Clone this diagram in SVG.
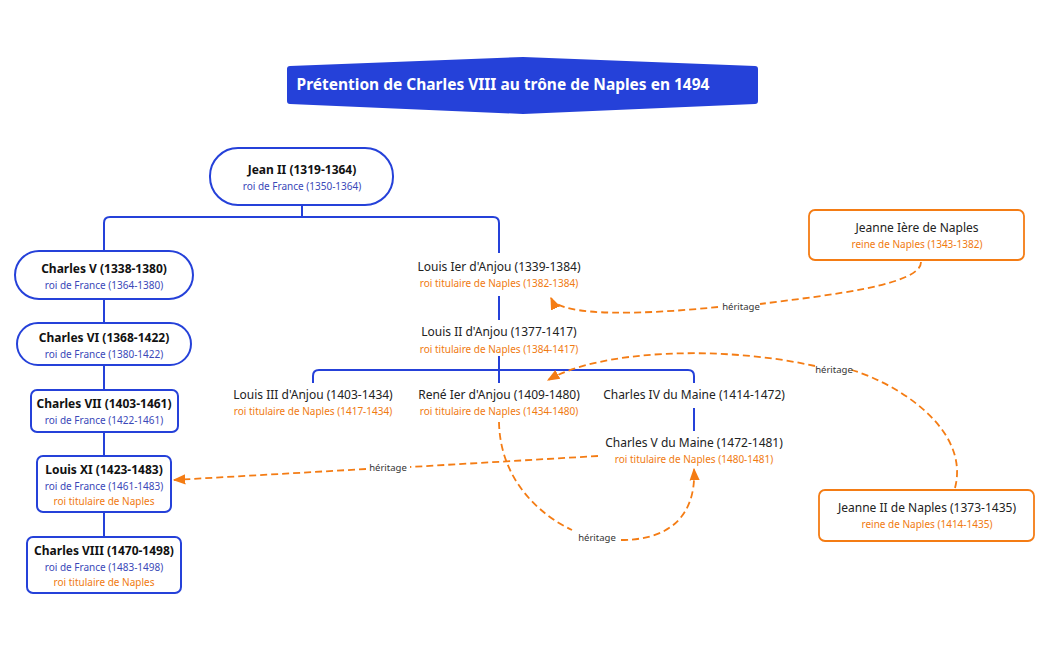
<svg xmlns="http://www.w3.org/2000/svg" width="1050" height="650" viewBox="0 0 1050 650">
<defs>
<style>
text{font-family:"Noto Sans","Open Sans",sans-serif;text-anchor:middle}
.b{font-size:12px;font-weight:bold;fill:#111}
.n{font-size:12px;fill:#222}
.s{font-size:10px;fill:#3a48b8}
.o{font-size:10px;fill:#f07a10}
.bn{fill:#fff;stroke:#2541d9;stroke-width:2}
.on{fill:#fff;stroke:#f47c14;stroke-width:1.8}
.l{fill:none;stroke:#2541d9;stroke-width:2}
.d{fill:none;stroke:#f47c14;stroke-width:1.8;stroke-dasharray:7,4}
.h{font-size:9.5px;fill:#333}
</style>
<marker id="a" viewBox="0 0 10 10" refX="9" refY="5" markerWidth="7" markerHeight="7" orient="auto"><path d="M0,1 L10,5 L0,9 z" fill="#f47c14"/></marker>
</defs>
<rect width="1050" height="650" fill="#fff"/>
<g id="title"><path d="M290,66 L523,57 L755,66 Q758,66 758,69 L758,101 Q758,104 755,104 L523,114 L290,104 Q287,104 287,101 L287,69 Q287,66 290,66 z" fill="#2541d9"/>
<text x="503" y="90" style="font-size:15.5px;font-weight:bold;fill:#fff">Prétention de Charles VIII au trône de Naples en 1494</text></g>
<g id="connectors">
<path class="l" d="M302,205 V217 M104,251 V223 Q104,217 110,217 H493 Q499,217 499,223 V253"/>
<path class="l" d="M104,299 V323 M104,365 V390 M104,432 V456 M104,512 V537"/>
<path class="l" d="M499,296 V320 M499,356 V383 M313,383 V376 Q313,370 319,370 H688 Q694,370 694,376 V383 M694,408 V431"/>
<path class="d" d="M921,262 C921,285 830,295 760,304 M718,307 C650,314 560,318 551,298" marker-end="url(#a)"/>
<path class="d" d="M955,488 C970,430 900,385 852,370 M815,366 C720,345 600,350 548,380" marker-end="url(#a)"/>
<path class="d" d="M598,456 L410,467 M366,469 L174,480" marker-end="url(#a)"/>
<path class="d" d="M499,422 C500,480 540,515 572,530 M621,540 C680,540 696,505 694,469" marker-end="url(#a)"/>
<text class="h" x="741" y="310">héritage</text>
<text class="h" x="834" y="373">héritage</text>
<text class="h" x="388" y="471">héritage</text>
<text class="h" x="597" y="541">héritage</text>
</g>
<g id="jean2"><rect class="bn" x="210" y="148" width="183" height="57" rx="28"/><text class="b" x="302" y="174">Jean II (1319-1364)</text><text class="s" x="302" y="190">roi de France (1350-1364)</text></g>
<g id="charles5"><rect class="bn" x="15" y="251" width="178" height="48" rx="24"/><text class="b" x="104" y="273">Charles V (1338-1380)</text><text class="s" x="104" y="289">roi de France (1364-1380)</text></g>
<g id="charles6"><rect class="bn" x="17" y="323" width="174" height="42" rx="21"/><text class="b" x="104" y="342">Charles VI (1368-1422)</text><text class="s" x="104" y="358">roi de France (1380-1422)</text></g>
<g id="charles7"><rect class="bn" x="31" y="390" width="147" height="42" rx="6"/><text class="b" x="104" y="408">Charles VII (1403-1461)</text><text class="s" x="104" y="424">roi de France (1422-1461)</text></g>
<g id="louis11"><rect class="bn" x="37" y="456" width="134" height="56" rx="6"/><text class="b" x="104" y="474">Louis XI (1423-1483)</text><text class="s" x="104" y="490">roi de France (1461-1483)</text><text class="o" x="104" y="505">roi titulaire de Naples</text></g>
<g id="charles8"><rect class="bn" x="27" y="537" width="154" height="56" rx="6"/><text class="b" x="104" y="555">Charles VIII (1470-1498)</text><text class="s" x="104" y="571">roi de France (1483-1498)</text><text class="o" x="104" y="586">roi titulaire de Naples</text></g>
<g id="louis1"><text class="n" x="499" y="271">Louis Ier d'Anjou (1339-1384)</text><text class="o" x="499" y="287">roi titulaire de Naples (1382-1384)</text></g>
<g id="louis2"><text class="n" x="499" y="336">Louis II d'Anjou (1377-1417)</text><text class="o" x="499" y="353">roi titulaire de Naples (1384-1417)</text></g>
<g id="louis3"><text class="n" x="313" y="399">Louis III d'Anjou (1403-1434)</text><text class="o" x="313" y="415">roi titulaire de Naples (1417-1434)</text></g>
<g id="rene"><text class="n" x="499" y="399">René Ier d'Anjou (1409-1480)</text><text class="o" x="499" y="415">roi titulaire de Naples (1434-1480)</text></g>
<g id="charles4maine"><text class="n" x="694" y="399">Charles IV du Maine (1414-1472)</text></g>
<g id="charles5maine"><text class="n" x="694" y="447">Charles  V du Maine (1472-1481)</text><text class="o" x="694" y="463">roi titulaire de Naples (1480-1481)</text></g>
<g id="jeanne1"><rect class="on" x="809" y="210" width="215" height="50" rx="6"/><text class="n" x="917" y="232">Jeanne Ière de Naples</text><text class="o" x="917" y="248">reine de Naples (1343-1382)</text></g>
<g id="jeanne2"><rect class="on" x="819" y="490" width="215" height="51" rx="6"/><text class="n" x="927" y="512">Jeanne II de Naples (1373-1435)</text><text class="o" x="927" y="528">reine de Naples (1414-1435)</text></g>
</svg>
